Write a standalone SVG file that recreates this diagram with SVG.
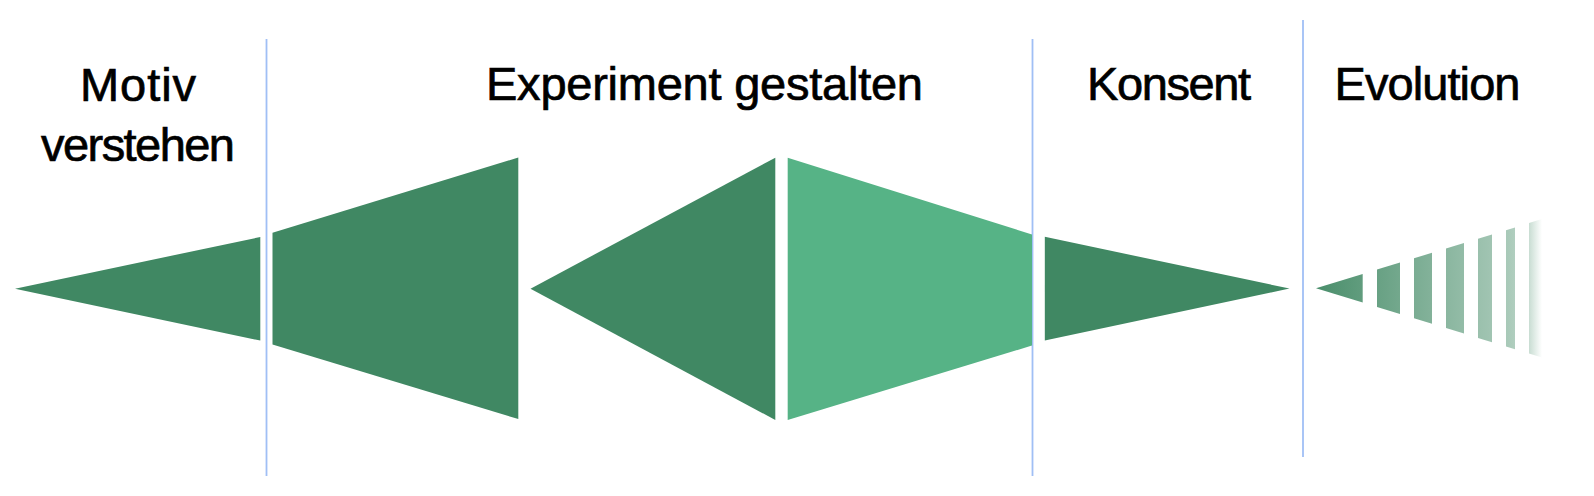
<svg xmlns="http://www.w3.org/2000/svg" width="1594" height="496" viewBox="0 0 1594 496">
  <style>
    .dark { fill: #408863; }
    .light { fill: #56b386; }
    .sep { stroke: #a0bff5; stroke-width: 1.8; fill: none; }
    .lbl { font-family: "Liberation Sans", "DejaVu Sans", sans-serif; font-size: 47px; fill: #000; stroke: #000; stroke-width: 0.7px; text-anchor: middle; }
  </style>
  <defs>
    <linearGradient id="fade" gradientUnits="userSpaceOnUse" x1="1316" y1="0" x2="1542" y2="0">
      <stop offset="0" stop-color="#408863" stop-opacity="0.95"/>
      <stop offset="0.85" stop-color="#408863" stop-opacity="0.45"/>
      <stop offset="0.93" stop-color="#408863" stop-opacity="0.35"/>
      <stop offset="1" stop-color="#408863" stop-opacity="0"/>
    </linearGradient>
  </defs>
  <rect width="1594" height="496" fill="#ffffff"/>

  <g id="separators">
    <line class="sep" x1="266.5" y1="39" x2="266.5" y2="476"/>
    <line class="sep" x1="1032.5" y1="39" x2="1032.5" y2="476"/>
    <line class="sep" x1="1303" y1="20" x2="1303" y2="457"/>
  </g>

  <g id="motiv">
    <polygon class="dark" points="15,288.7 260.3,237 260.3,340.6"/>
    <text class="lbl" x="138" y="100.5" textLength="116">Motiv</text>
    <text class="lbl" x="138" y="160.5" textLength="194">verstehen</text>
  </g>

  <g id="experiment">
    <polygon class="dark" points="272.5,232.8 518.3,157.5 518.3,419 272.5,344.6"/>
    <polygon class="dark" points="530.5,288.7 775.3,157.7 775.3,420"/>
    <polygon class="light" points="787.7,157.7 1032,234.5 1032,345.6 787.7,420"/>
    <text class="lbl" x="704.5" y="100" textLength="437">Experiment gestalten</text>
  </g>

  <g id="konsent">
    <polygon class="dark" points="1044.8,236.8 1289.5,288.5 1044.8,340.6"/>
    <text class="lbl" x="1169" y="100" textLength="164">Konsent</text>
  </g>

  <g id="evolution">
    <g fill="url(#fade)">
      <polygon points="1316,288.3 1362.7,274 1362.7,302.6"/>
      <polygon points="1377,269.6 1400,262.6 1400,314 1377,307"/>
      <polygon points="1414,258.3 1432,252.8 1432,323.8 1414,318.3"/>
      <polygon points="1446,248.5 1464,243 1464,333.6 1446,328.1"/>
      <polygon points="1478,238.7 1492,234.4 1492,342.2 1478,337.9"/>
      <polygon points="1506,230.2 1515,227.4 1515,349.2 1506,346.4"/>
      <polygon points="1529,223.1 1542,219.1 1542,357.5 1529,353.5"/>
    </g>
    <text class="lbl" x="1427.5" y="100" textLength="186">Evolution</text>
  </g>
</svg>
